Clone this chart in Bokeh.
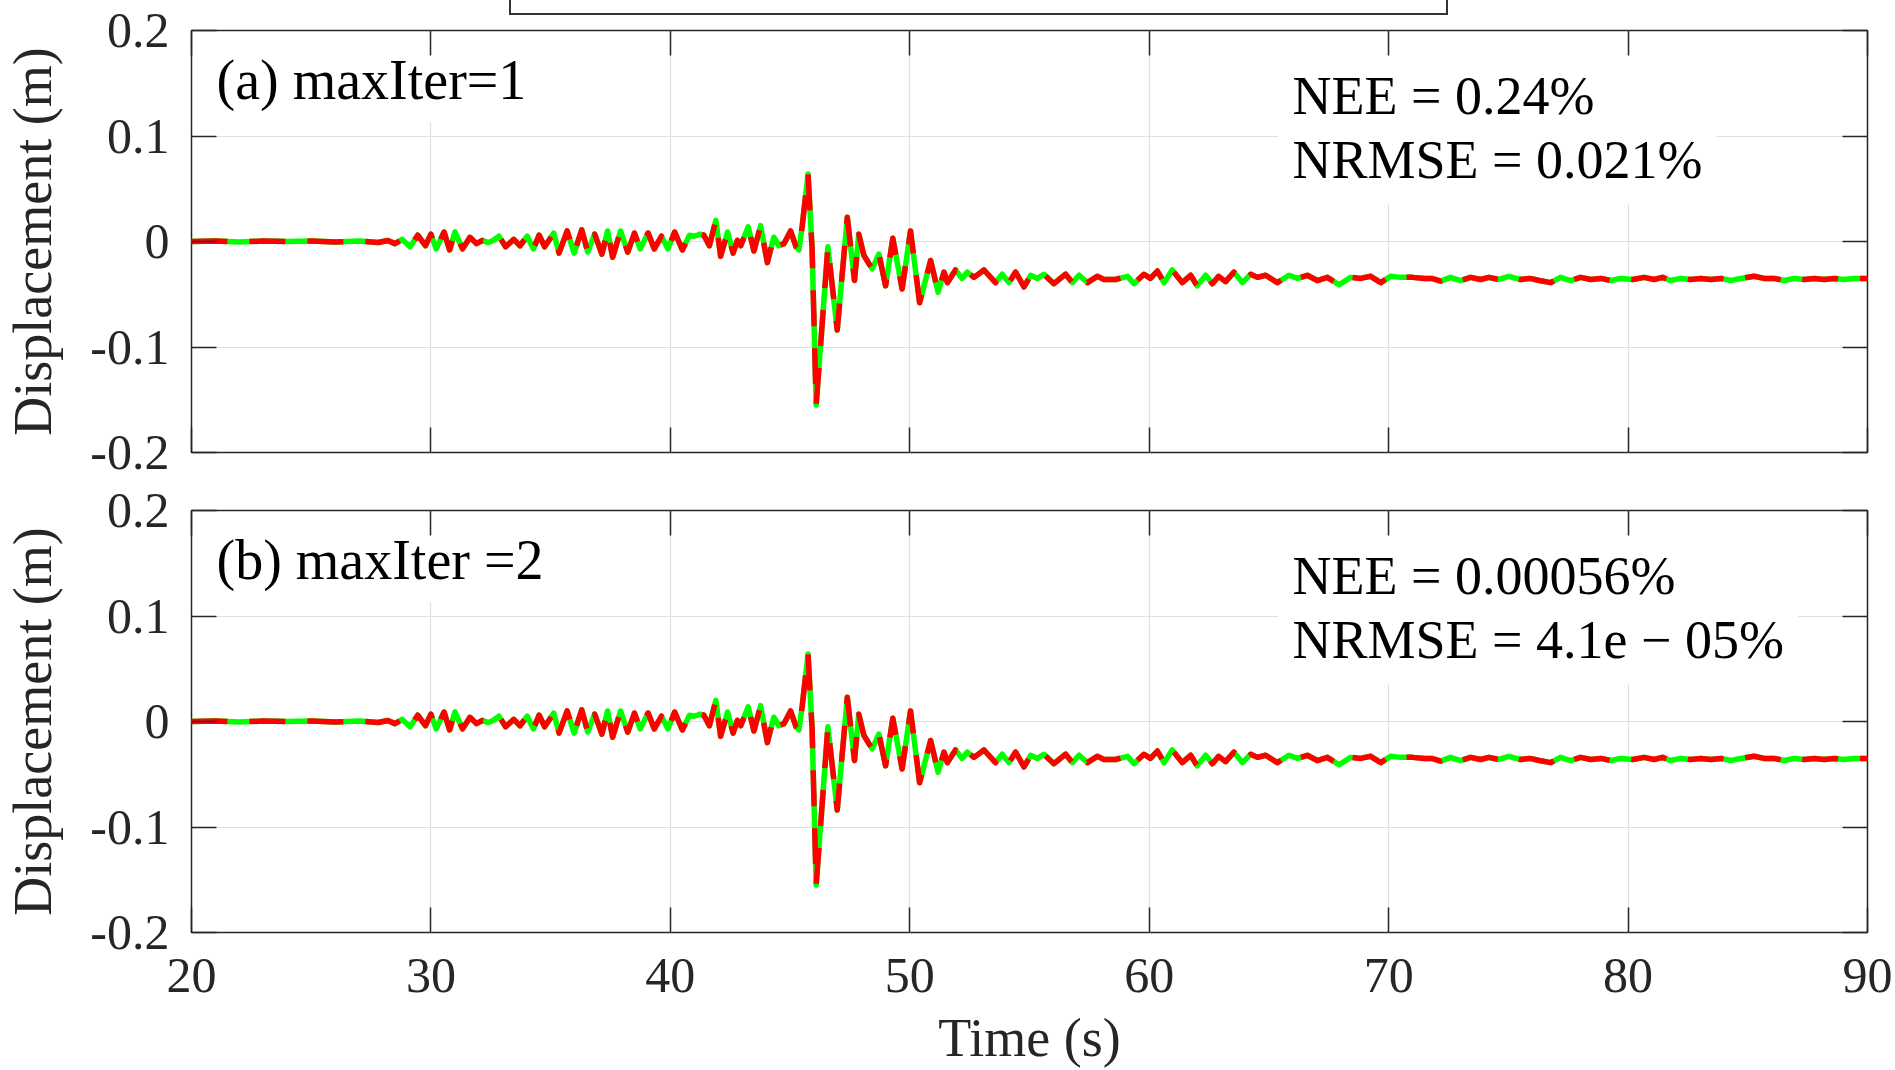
from jinja2 import Template
from bokeh.plotting import figure
from bokeh.models import Range1d, FixedTicker, LinearAxis, Label
from bokeh.layouts import column
from bokeh.embed import file_html
from bokeh.resources import INLINE

# ---------------- data ----------------
time_s = [
    20.0, 21.0, 22.0, 23.0, 24.0, 25.0, 26.0, 27.0, 27.8, 28.2, 28.5, 28.8,
    29.13, 29.45, 29.77, 30.0, 30.22, 30.55, 30.78, 31.0, 31.32, 31.63, 31.9,
    32.15, 32.4, 32.6, 32.84, 33.12, 33.46, 33.72, 34.02, 34.28, 34.52, 34.75,
    35.13, 35.35, 35.69, 35.98, 36.3, 36.55, 36.84, 37.14, 37.38, 37.59, 37.92,
    38.22, 38.5, 38.74, 39.07, 39.33, 39.63, 39.9, 40.18, 40.5, 40.8, 41.0,
    41.25, 41.4, 41.63, 41.9, 42.1, 42.39, 42.62, 42.8, 42.94, 43.25, 43.49,
    43.77, 44.05, 44.32, 44.53, 44.75, 45.02, 45.25, 45.37, 45.51, 45.75,
    45.92, 46.09, 46.58, 46.97, 47.39, 47.69, 47.87, 48.08, 48.43, 48.71,
    48.99, 49.29, 49.68, 50.03, 50.41, 50.87, 51.18, 51.43, 51.57, 51.91,
    52.19, 52.4, 52.68, 53.1, 53.58, 53.86, 54.14, 54.42, 54.77, 55.05, 55.33,
    55.6, 56.02, 56.51, 56.79, 57.07, 57.42, 57.83, 58.11, 58.6, 59.09, 59.36,
    59.78, 60.05, 60.34, 60.62, 60.96, 61.38, 61.73, 62.0, 62.36, 62.64, 62.9,
    63.19, 63.54, 63.89, 64.24, 64.52, 64.86, 65.35, 65.84, 66.19, 66.6, 67.02,
    67.44, 67.93, 68.41, 68.83, 69.25, 69.67, 70.08, 70.5, 71.0, 71.5, 71.8,
    72.17, 72.59, 73.0, 73.42, 73.84, 74.19, 74.6, 75.02, 75.51, 75.9, 76.3,
    76.77, 77.18, 77.6, 78.02, 78.44, 78.86, 79.28, 79.7, 80.2, 80.67, 81.09,
    81.44, 81.78, 82.2, 82.62, 83.04, 83.46, 83.88, 84.3, 84.71, 85.26, 85.68,
    86.1, 86.52, 86.94, 87.36, 87.77, 88.19, 88.61, 89.03, 89.45, 90.0,
]

# target (green, solid) displacement in m
disp_target = [
    0.000, 0.0005, -0.0005, 0.0005, 0.000, 0.0005, -0.0005, 0.0005, -0.001, 0.001, -0.002, 0.002,
    -0.005, 0.006, -0.004, 0.007, -0.007, 0.009, -0.008, 0.009, -0.007, 0.004, -0.002,
    0.001, -0.001, 0.001, 0.005, -0.005, 0.002, -0.004, 0.005, -0.007, 0.006, -0.005,
    0.008, -0.011, 0.010, -0.011, 0.011, -0.010, 0.007, -0.012, 0.010, -0.015, 0.010,
    -0.010, 0.008, -0.007, 0.008, -0.007, 0.005, -0.007, 0.009, -0.008, 0.006, 0.005,
    0.007, 0.006, -0.004, 0.020, -0.014, 0.009, -0.011, 0.001, -0.004, 0.014, -0.009,
    0.015, -0.020, 0.004, -0.004, -0.002, 0.010, -0.005, -0.008, 0.015, 0.064,
    -0.007, -0.155, -0.005, -0.084, 0.023, -0.037, 0.007, -0.013, -0.026, -0.012,
    -0.042, 0.003, -0.045, 0.010, -0.058, -0.018, -0.048, -0.029, -0.039, -0.027,
    -0.035, -0.029, -0.034, -0.027, -0.039, -0.031, -0.039, -0.029, -0.043, -0.032, -0.035,
    -0.031, -0.040, -0.031, -0.039, -0.032, -0.039, -0.033, -0.036, -0.036, -0.033, -0.040,
    -0.031, -0.035, -0.028, -0.039, -0.027, -0.039, -0.032, -0.042, -0.032, -0.040, -0.033,
    -0.038, -0.029, -0.039, -0.031, -0.034, -0.032, -0.039, -0.032, -0.035, -0.032, -0.037,
    -0.034, -0.041, -0.034, -0.035, -0.033, -0.039, -0.033, -0.034, -0.034, -0.035, -0.035,
    -0.0375, -0.034, -0.037, -0.034, -0.036, -0.034, -0.036, -0.033, -0.036, -0.035, -0.037,
    -0.039, -0.034, -0.037, -0.034, -0.036, -0.035, -0.037, -0.035, -0.036, -0.034, -0.036,
    -0.034, -0.037, -0.035, -0.036, -0.035, -0.036, -0.035, -0.037, -0.035, -0.033, -0.035,
    -0.035, -0.037, -0.035, -0.036, -0.035, -0.036, -0.035, -0.036, -0.035, -0.035,
]

# achieved (red, dashed) displacement: visually identical to the target in both panels
disp_achieved_a = list(disp_target)
disp_achieved_b = list(disp_target)

panel_titles = ["(a) maxIter=1", "(b) maxIter =2"]
nee_values = ["0.24%", "0.00056%"]
nrmse_values = ["0.021%", "4.1e \u2212 05%"]

x_ticks = [20, 30, 40, 50, 60, 70, 80, 90]
x_tick_labels = ["20", "30", "40", "50", "60", "70", "80", "90"]
y_ticks = [-0.2, -0.1, 0.0, 0.1, 0.2]
y_tick_labels = ["-0.2", "-0.1", "0", "0.1", "0.2"]

FONT = "Liberation Serif"
DARK = "#262626"


def style_axis(ax, ticks, labels, show_labels, standoff=20):
    ax.ticker = FixedTicker(ticks=ticks)
    ax.minor_tick_line_color = None
    ax.major_tick_in = 25
    ax.major_tick_out = 0
    ax.major_tick_line_color = DARK
    ax.major_tick_line_width = 1.5
    ax.axis_line_color = None
    if show_labels:
        ax.major_label_overrides = dict(zip(ticks, labels))
        ax.major_label_text_font = FONT
        ax.major_label_text_font_size = "50px"
        ax.major_label_text_color = DARK
        ax.major_label_standoff = standoff
    else:
        ax.major_label_overrides = {t: "" for t in ticks}
        ax.major_label_text_font_size = "0px"
        ax.major_label_standoff = 0


def make_panel(i, is_bottom, achieved):
    p = figure(
        frame_width=1676, frame_height=422,
        x_range=Range1d(20, 90), y_range=Range1d(-0.2, 0.2),
        output_backend="svg", toolbar_location=None,
        min_border_left=191, min_border_right=26,
        min_border_top=30 if i == 0 else 29,
        min_border_bottom=136 if is_bottom else 29,
    )
    p.background_fill_color = "white"
    p.border_fill_color = "white"
    p.outline_line_color = DARK
    p.outline_line_width = 1.5
    p.outline_line_alpha = 1.0

    bottom_ax = p.xaxis[0]
    left_ax = p.yaxis[0]
    style_axis(bottom_ax, x_ticks, x_tick_labels, is_bottom, standoff=26)
    style_axis(left_ax, y_ticks, y_tick_labels, True, standoff=22)
    top_ax = LinearAxis()
    style_axis(top_ax, x_ticks, x_tick_labels, False)
    p.add_layout(top_ax, "above")
    right_ax = LinearAxis()
    style_axis(right_ax, y_ticks, y_tick_labels, False)
    p.add_layout(right_ax, "right")

    left_ax.axis_label = "Displacement (m)"
    left_ax.axis_label_text_font = FONT
    left_ax.axis_label_text_font_size = "54px"
    left_ax.axis_label_text_font_style = "normal"
    left_ax.axis_label_text_color = DARK
    left_ax.axis_label_standoff = 24
    if is_bottom:
        bottom_ax.axis_label = "Time (s)"
        bottom_ax.axis_label_text_font = FONT
        bottom_ax.axis_label_text_font_size = "54px"
        bottom_ax.axis_label_text_font_style = "normal"
        bottom_ax.axis_label_text_color = DARK
        bottom_ax.axis_label_standoff = 13

    p.xgrid.ticker = FixedTicker(ticks=x_ticks)
    p.ygrid.ticker = FixedTicker(ticks=y_ticks)
    p.xgrid.grid_line_color = "#e0e0e0"
    p.ygrid.grid_line_color = "#e0e0e0"
    p.xgrid.grid_line_width = 1.2
    p.ygrid.grid_line_width = 1.2

    p.line(time_s, disp_target, line_color="#00ff00", line_width=5.5, line_join="round")
    p.line(time_s, achieved, line_color="#ff0000", line_width=5.5, line_dash="36 22",
           line_join="round")

    p.add_layout(Label(
        x=13, y=373, x_units="screen", y_units="screen", text=panel_titles[i],
        text_font=FONT, text_font_size="56px", text_color="black",
        text_align="left", text_baseline="middle",
        background_fill_color="white", padding=12, level="underlay",
    ))
    p.add_layout(Label(
        x=1087, y=401, x_units="screen", y_units="screen",
        text="NEE = " + nee_values[i] + "\nNRMSE = " + nrmse_values[i],
        text_font=FONT, text_font_size="54px", text_color="black",
        text_align="left", text_baseline="top", text_line_height=1.08,
        background_fill_color="white", padding=14, level="underlay",
    ))
    return p


pa = make_panel(0, False, disp_achieved_a)
pb = make_panel(1, True, disp_achieved_b)
layout = column(pa, pb, spacing=0)

# page template: same reset as Bokeh's default page, plus the legend frame that
# is cut off at the top edge of the picture
page_template = Template("""<!DOCTYPE html>
<html lang="en">
<head>
<meta charset="utf-8">
<title>{{ title if title else "Bokeh Plot" }}</title>
<style>
html, body { box-sizing: border-box; display: flow-root; height: 100%; margin: 0; padding: 0; }
.legend-frame { position: absolute; left: 509px; top: -30px; width: 939px; height: 45px;
  border: 2px solid #333333; box-sizing: border-box; z-index: 10; pointer-events: none; }
</style>
{{ bokeh_css | default("", true) }}
{{ bokeh_js | default("", true) }}
</head>
<body>
<div class="legend-frame"></div>
{{ plot_div }}
{{ plot_script }}
</body>
</html>
""")

open("out.html", "w").write(file_html(layout, INLINE, template=page_template))
